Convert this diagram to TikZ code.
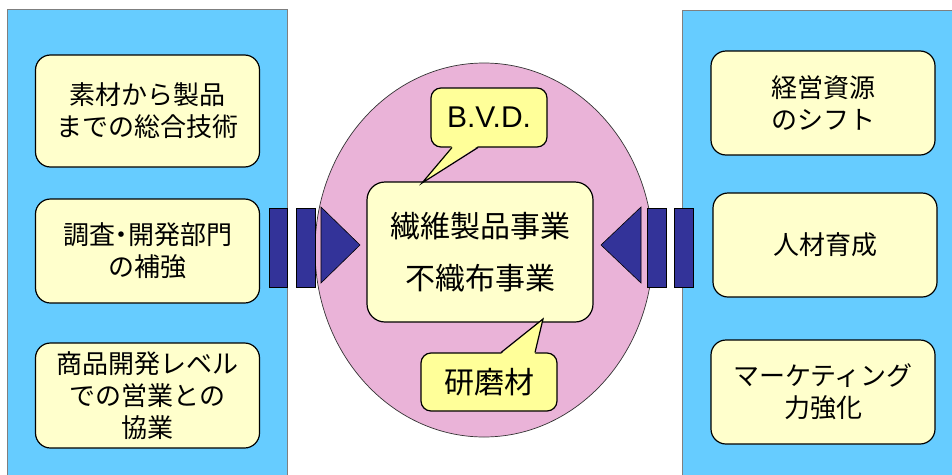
\documentclass[tikz,border=0pt]{standalone}
\usepackage{fontspec}
\newfontfamily\jp{Noto Sans CJK JP}
\newfontfamily\lat{Liberation Sans}
\usetikzlibrary{shapes.geometric}
\definecolor{panelblue}{HTML}{66CCFF}
\definecolor{boxyellow}{HTML}{FFFFCC}
\definecolor{callyellow}{HTML}{FFFF99}
\definecolor{pinkfill}{HTML}{EAB3D8}
\definecolor{navy}{HTML}{333399}
\definecolor{panelgray}{HTML}{7F7F7F}
\tikzset{
  panel/.style={draw=panelgray, line width=1pt, fill=panelblue, inner sep=0pt},
  sidebox/.style={draw=black, line width=1.2pt, fill=boxyellow, rounded corners=15pt,
     minimum width=224pt, inner sep=0pt, align=center,
     font=\jp\fontsize{26pt}{32pt}\selectfont},
  centerbox/.style={draw=black, line width=1.2pt, fill=boxyellow, rounded corners=18pt,
     minimum width=226pt, minimum height=140pt, inner sep=0pt, align=center,
     font=\jp\fontsize{30pt}{52pt}\selectfont},
  callbox/.style={draw=black, line width=1.2pt, fill=callyellow, rounded corners=10pt,
     inner sep=0pt, align=center},
  bar/.style={draw=black, line width=0.6pt, fill=navy},
  ring/.style={draw=black!80, line width=0.7pt, fill=pinkfill, ellipse, inner sep=0pt}
}
\begin{document}
\begin{tikzpicture}[x=1pt,y=-1pt]
\useasboundingbox (0,0) rectangle (952,474);
\fill[white] (0,0) rectangle (952,474);
% panels
\node[panel, minimum width=280pt, minimum height=480pt] (lpanel) at (147,249) {};
\node[panel, minimum width=290pt, minimum height=480pt] (rpanel) at (827,250) {};
% ring
\node[ring, minimum width=338pt, minimum height=374pt] (ring) at (484,250) {};
% left boxes
\node[sidebox, minimum height=112pt] (l1) at (147.5,111) {素材から製品\\までの総合技術};
\node[sidebox, minimum height=104pt] (l2) at (147.5,251) {調査\hspace{-6.5pt}・\hspace{-6.5pt}開発部門\\の補強};
\node[sidebox, minimum height=105pt] (l3) at (147.5,395.5) {商品開発レベル\\での営業との\\協業};
% right boxes
\node[sidebox, minimum height=104pt] (r1) at (823,103) {経営資源\\のシフト};
\node[sidebox, minimum height=104pt] (r2) at (825,245) {人材育成};
\node[sidebox, minimum height=104pt] (r3) at (823,392) {マーケティング\\力強化};
% arrows (bars and triangles)
\draw[bar] (269,208) rectangle (287,287);
\draw[bar] (296,208) rectangle (315,287);
\draw[bar] (321,207) -- (360,245) -- (321,283) -- cycle;
\draw[bar] (641,207) -- (601,245) -- (641,283) -- cycle;
\draw[bar] (647,208) rectangle (666,287);
\draw[bar] (674,208) rectangle (693,287);
% center
\node[centerbox] (c) at (480,252) {繊維製品事業\\不織布事業};
% callouts
\node[callbox, minimum width=116pt, minimum height=59pt, font=\lat\fontsize{30pt}{34pt}\selectfont] (bvd) at (489,117.5) {B.V.D.};
\coordinate (bvdtip) at (422,183);
\fill[callyellow] (452,146) -- (bvdtip) -- (478,146) -- cycle;
\draw[line width=1.2pt, line join=miter] (452,147.5) -- (bvdtip) -- (478,147.5);
\node[callbox, minimum width=136pt, minimum height=58pt, font=\jp\fontsize{30pt}{34pt}\selectfont] (ken) at (489,382) {研磨材};
\coordinate (kentip) at (543,319);
\fill[callyellow] (501,354) -- (kentip) -- (535,354) -- cycle;
\draw[line width=1.2pt, line join=miter] (501,352.5) -- (kentip) -- (535,352.5);
\end{tikzpicture}
\end{document}
